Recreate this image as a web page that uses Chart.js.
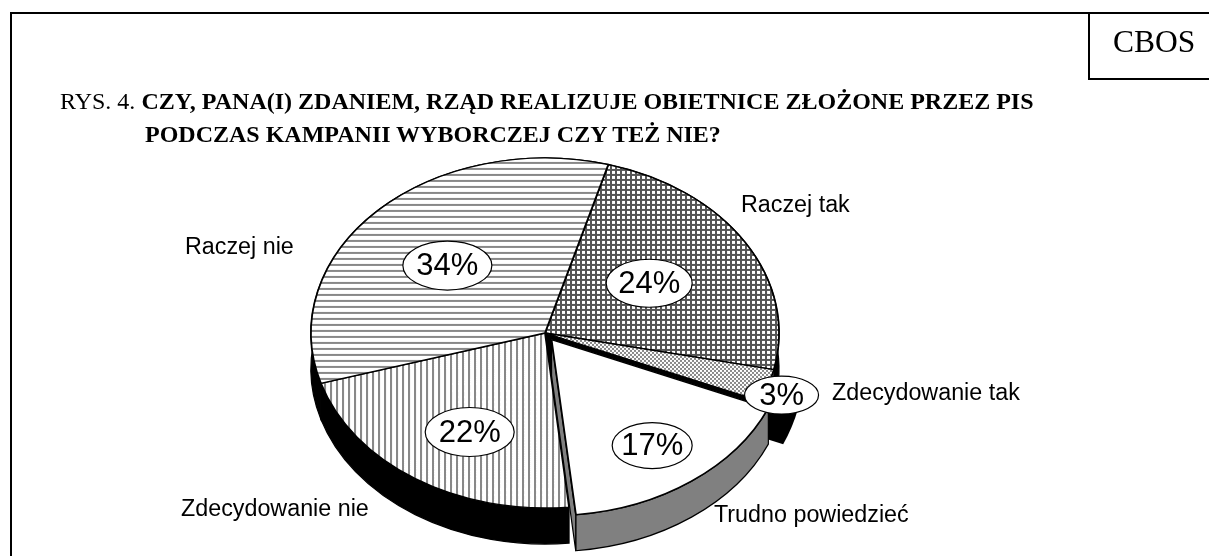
<!DOCTYPE html>
<html lang="pl">
<head>
<meta charset="utf-8">
<script src="https://cdn.jsdelivr.net/npm/chart.js@4"></script>
<style>
html,body{margin:0;padding:0;background:#fff;width:1209px;height:556px;overflow:hidden}
#wrap{position:relative;width:1209px;height:556px;font-family:"Liberation Serif",serif;color:#000}
canvas{position:absolute;left:0;top:0}
.rule{position:absolute;background:#000}
.t{position:absolute;white-space:nowrap;font-size:24px;line-height:24px}
b{font-weight:bold}
</style>
</head>
<body>
<div id="wrap">
  <canvas id="c" width="1209" height="556"></canvas>
  <div class="rule" style="left:10px;top:12px;width:1199px;height:2px"></div>
  <div class="rule" style="left:10px;top:12px;width:2px;height:544px"></div>
  <div class="rule" style="left:1088px;top:12px;width:2px;height:68px"></div>
  <div class="rule" style="left:1088px;top:78px;width:121px;height:2px"></div>
  <div class="t" style="left:1113px;top:24px;font-size:31.5px;line-height:36px">CBOS</div>
  <div class="t" style="left:60px;top:89px">RYS. 4. <b>CZY, PANA(I) ZDANIEM, RZĄD REALIZUJE OBIETNICE ZŁOŻONE PRZEZ PIS</b></div>
  <div class="t" style="left:145px;top:122px"><b>PODCZAS KAMPANII WYBORCZEJ CZY TEŻ NIE?</b></div>
</div>
<script>
const categories = ["Raczej tak", "Zdecydowanie tak", "Trudno powiedzieć", "Zdecydowanie nie", "Raczej nie"];
const values = [24, 3, 17, 22, 34];
const percentLabels = ["24%", "3%", "17%", "22%", "34%"];

const RX = 234, TILT = 0.748, DEPTH = 36, ROT = 15.7;
const EXPLODE = [0, 0, 44, 0, 0];
const WALL = ["#000", "#000", "#808080", "#000", "#000"];
// label layout: fraction of radius from the centre along each slice's mid-angle
const pctF = [[0.52,0.55],[1.06,1.18],[0.77,0.80],[0.58,0.68],[0.585,0.55]];
const pctR = [[43,24],[37,19],[40,23],[44.5,24.5],[44.5,24.5]];
const nameX = [741, 832, 714, 181, 185];
const nameY = [212, 400, 522, 516, 254];

function tile(w, h, paint) {
  const c = document.createElement("canvas"); c.width = w; c.height = h;
  const x = c.getContext("2d"); x.fillStyle = "#fff"; x.fillRect(0,0,w,h); paint(x);
  const p = document.createElement("canvas").getContext("2d").createPattern(c, "repeat");
  p.setTransform(new DOMMatrix().scale(1, 1 / TILT));
  return p;
}
const fills = [
  tile(5,5,x=>{x.fillStyle="#555";x.fillRect(0,0,5,2);x.fillRect(0,0,2,5);}),
  tile(4,4,x=>{x.fillStyle="#888";x.fillRect(0,0,2,2);x.fillRect(2,2,2,2);}),
  "#fff",
  tile(6,6,x=>{x.fillStyle="#888";x.fillRect(0,0,2,6);}),
  tile(6,6,x=>{x.fillStyle="#888";x.fillRect(0,0,6,2);})
];

function geom(el, i) {
  const off = EXPLODE[i] / 4, mid = (el.startAngle + el.endAngle) / 2;
  const fix = 1 - Math.sin(Math.min(Math.PI, el.circumference));
  return {
    cx: el.x + Math.cos(mid) * off,
    cy: el.y + Math.sin(mid) * off * TILT,
    rx: el.outerRadius + (off ? off * fix : 0),
    a0: el.startAngle, a1: el.endAngle
  };
}
function wall(ctx, g, color, lw) {
  const ry = g.rx * TILT;
  ctx.beginPath();
  ctx.ellipse(g.cx, g.cy, g.rx, ry, 0, g.a0, g.a1);
  ctx.ellipse(g.cx, g.cy + DEPTH, g.rx, ry, 0, g.a1, g.a0, true);
  ctx.closePath();
  ctx.fillStyle = color; ctx.fill();
  ctx.lineWidth = lw; ctx.strokeStyle = "#000"; ctx.stroke();
}
function cutFace(ctx, g, ang, color) {
  const ry = g.rx * TILT;
  const ox = g.cx + Math.cos(ang) * g.rx, oy = g.cy + Math.sin(ang) * ry;
  ctx.beginPath();
  ctx.moveTo(g.cx, g.cy); ctx.lineTo(ox, oy); ctx.lineTo(ox, oy + DEPTH); ctx.lineTo(g.cx, g.cy + DEPTH);
  ctx.closePath();
  ctx.fillStyle = color; ctx.fill();
  ctx.lineWidth = 1.2; ctx.strokeStyle = "#000"; ctx.stroke();
}
function tilt(ctx, el) {
  ctx.translate(el.x, el.y); ctx.scale(1, TILT); ctx.translate(-el.x, -el.y);
}

const pie3d = {
  id: "pie3d",
  beforeDatasetsDraw(chart) {
    const ctx = chart.ctx, arcs = chart.getDatasetMeta(0).data;
    ctx.save();
    // the small slice's wall sits slightly proud of the pie
    const s = geom(arcs[1], 1);
    ctx.beginPath();
    ctx.moveTo(s.cx, s.cy + DEPTH);
    ctx.ellipse(s.cx, s.cy + DEPTH, s.rx * 1.105, s.rx * 1.105 * TILT, 0, s.a0, s.a1);
    ctx.closePath(); ctx.fillStyle = "#000"; ctx.fill();
    cutFace(ctx, s, s.a1, "#000");
    [0, 3, 4].forEach(i => wall(ctx, geom(arcs[i], i), WALL[i], 1.2));
    ctx.restore();
    ctx.save();
    tilt(ctx, arcs[0]);
  },
  afterDatasetsDraw(chart) {
    const ctx = chart.ctx, arcs = chart.getDatasetMeta(0).data;
    ctx.restore();
    // exploded slice is nearest the viewer: its sides and top go over its neighbours
    const g = geom(arcs[2], 2);
    wall(ctx, g, WALL[2], 1.2);
    cutFace(ctx, g, g.a1, WALL[2]);
    ctx.save(); tilt(ctx, arcs[0]); arcs[2].draw(ctx); ctx.restore();

    arcs.forEach((el, i) => {
      const mid = (el.startAngle + el.endAngle) / 2;
      const x = el.x + Math.cos(mid) * el.outerRadius * pctF[i][0];
      const y = el.y + Math.sin(mid) * el.outerRadius * TILT * pctF[i][1];
      ctx.beginPath(); ctx.ellipse(x, y, pctR[i][0], pctR[i][1], 0, 0, Math.PI * 2);
      ctx.fillStyle = "#fff"; ctx.fill();
      ctx.lineWidth = 1.2; ctx.strokeStyle = "#000"; ctx.stroke();
      ctx.fillStyle = "#000"; ctx.font = '31px "Liberation Sans"';
      ctx.textAlign = "center"; ctx.textBaseline = "middle";
      ctx.fillText(percentLabels[i], x, y + 1);
      ctx.font = '23.3px "Liberation Sans"';
      ctx.textAlign = "left"; ctx.textBaseline = "alphabetic";
      ctx.fillText(categories[i], nameX[i], nameY[i]);
    });
  }
};

new Chart(document.getElementById("c"), {
  type: "pie",
  data: {
    labels: categories,
    datasets: [{
      data: values,
      radius: RX,
      backgroundColor: fills,
      borderColor: "#000",
      borderWidth: 1.8,
      offset: EXPLODE,
      hoverOffset: 0
    }]
  },
  options: {
    responsive: false,
    animation: false,
    rotation: ROT,
    layout: { padding: { top: 110, left: 0, right: 119, bottom: 0 } },
    plugins: { legend: { display: false }, tooltip: { enabled: false } },
    events: []
  },
  plugins: [pie3d]
});
</script>
</body>
</html>
